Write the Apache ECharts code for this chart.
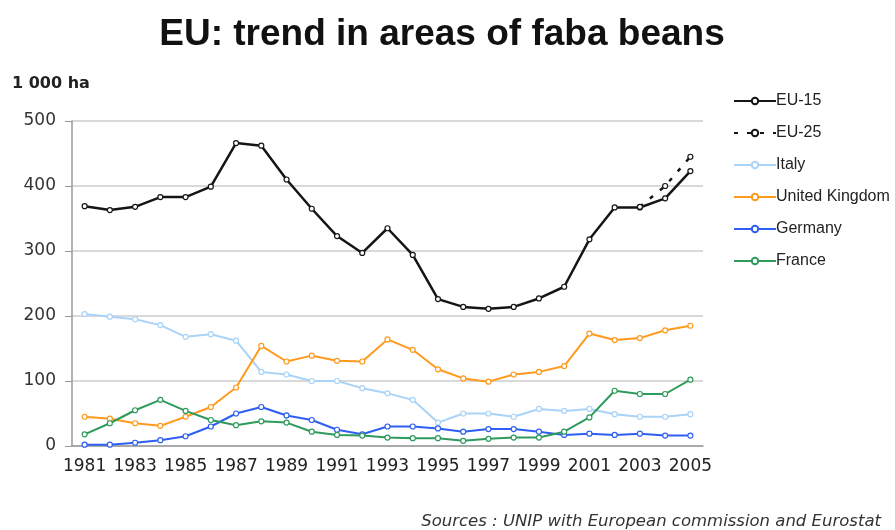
<!DOCTYPE html>
<html><head><meta charset="utf-8">
<script src="https://cdn.jsdelivr.net/npm/echarts@6/dist/echarts.min.js"></script>
<style>html,body{margin:0;padding:0;background:#fff}#c{width:895px;height:530px}</style>
</head><body><div id="c"></div>
<script>
var years = ['1981','1982','1983','1984','1985','1986','1987','1988','1989','1990','1991','1992','1993','1994','1995','1996','1997','1998','1999','2000','2001','2002','2003','2004','2005'];
var eu15 = [369,363,368,383,383,399,466,462,410,365,323,297,335,294,226,214,211,214,227,245,318,367,367,381,423];
var eu25 = [null,null,null,null,null,null,null,null,null,null,null,null,null,null,null,null,null,null,null,null,null,null,368,400,445];
var italy = [203,199,195,186,168,172,162,114,110,100,100,89,81,71,36,50,50,45,57,54,57,49,45,45,49];
var uk = [45,42,35,31,45,60,90,154,130,139,131,130,164,148,118,104,99,110,114,123,173,163,166,178,185];
var germany = [2,2,5,9,15,30,50,60,47,40,25,18,30,30,27,22,26,26,22,17,19,17,19,16,16];
var france = [18,35,55,71,54,40,32,38,36,22,17,16,13,12,12,8,11,13,13,22,44,85,80,80,102];

var chart = echarts.init(document.getElementById('c'));
var wide = 'DejaVu Sans, Verdana, sans-serif';
function mk(name, data, color, width, dashed) {
  return {
    name: name, type: 'line', data: data, connectNulls: false,
    symbol: 'circle', symbolSize: 5, showSymbol: true,
    itemStyle: {color: '#fff', borderColor: color, borderWidth: 1.2},
    lineStyle: {color: color, width: width, type: dashed ? [4,9] : 'solid'},
    emphasis: {disabled: true}, animation: false
  };
}
chart.setOption({
  backgroundColor: '#fff',
  textStyle: {fontFamily: 'Liberation Sans, Arial, sans-serif'},
  title: {
    text: 'EU: trend in areas of faba beans', left: 437, top: 11, textAlign: 'center',
    textStyle: {fontSize: 37, fontWeight: 'bold', color: '#111', fontFamily: 'Liberation Sans, Arial, sans-serif'}
  },
  graphic: [
    {type: 'text', left: 12, top: 76, style: {text: '1 000 ha', fontSize: 16, fontWeight: 'bold', fill: '#222', fontFamily: wide}},
    {type: 'text', right: 14, top: 513, style: {text: 'Sources : UNIP with European commission and Eurostat', fontSize: 16.5, fontStyle: 'italic', fill: '#333', fontFamily: wide}}
  ],
  legend: {
    orient: 'vertical', left: 728, top: 88, itemWidth: 42, itemHeight: 8, itemGap: 16,
    textStyle: {fontSize: 16, color: '#222', padding: [0,0,0,-5]},
    data: ['EU-15','EU-25','Italy','United Kingdom','Germany','France']
  },
  grid: {left: 72, right: 192, top: 121, bottom: 84},
  xAxis: {
    type: 'category', data: years, boundaryGap: true,
    axisLine: {lineStyle: {color: '#999', width: 1.5}},
    axisTick: {interval: 0, length: 6, lineStyle: {color: '#999'}},
    axisLabel: {interval: 1, fontSize: 17, color: '#222', margin: 12, fontFamily: wide}
  },
  yAxis: {
    type: 'value', min: 0, max: 500, interval: 100,
    axisLine: {show: true, lineStyle: {color: '#999', width: 1.5}},
    axisTick: {show: true, length: 7, lineStyle: {color: '#999'}},
    axisLabel: {fontSize: 17, color: '#333', margin: 16, fontFamily: wide},
    splitLine: {lineStyle: {color: '#ccc', width: 1.5}}
  },
  series: [
    mk('EU-15', eu15, '#151515', 2.5, false),
    mk('EU-25', eu25, '#151515', 2.5, true),
    mk('Italy', italy, '#a9d3f7', 2, false),
    mk('United Kingdom', uk, '#ff9a1c', 2, false),
    mk('Germany', germany, '#2f5ff2', 2, false),
    mk('France', france, '#2e9a5c', 2, false)
  ]
});
</script></body></html>
